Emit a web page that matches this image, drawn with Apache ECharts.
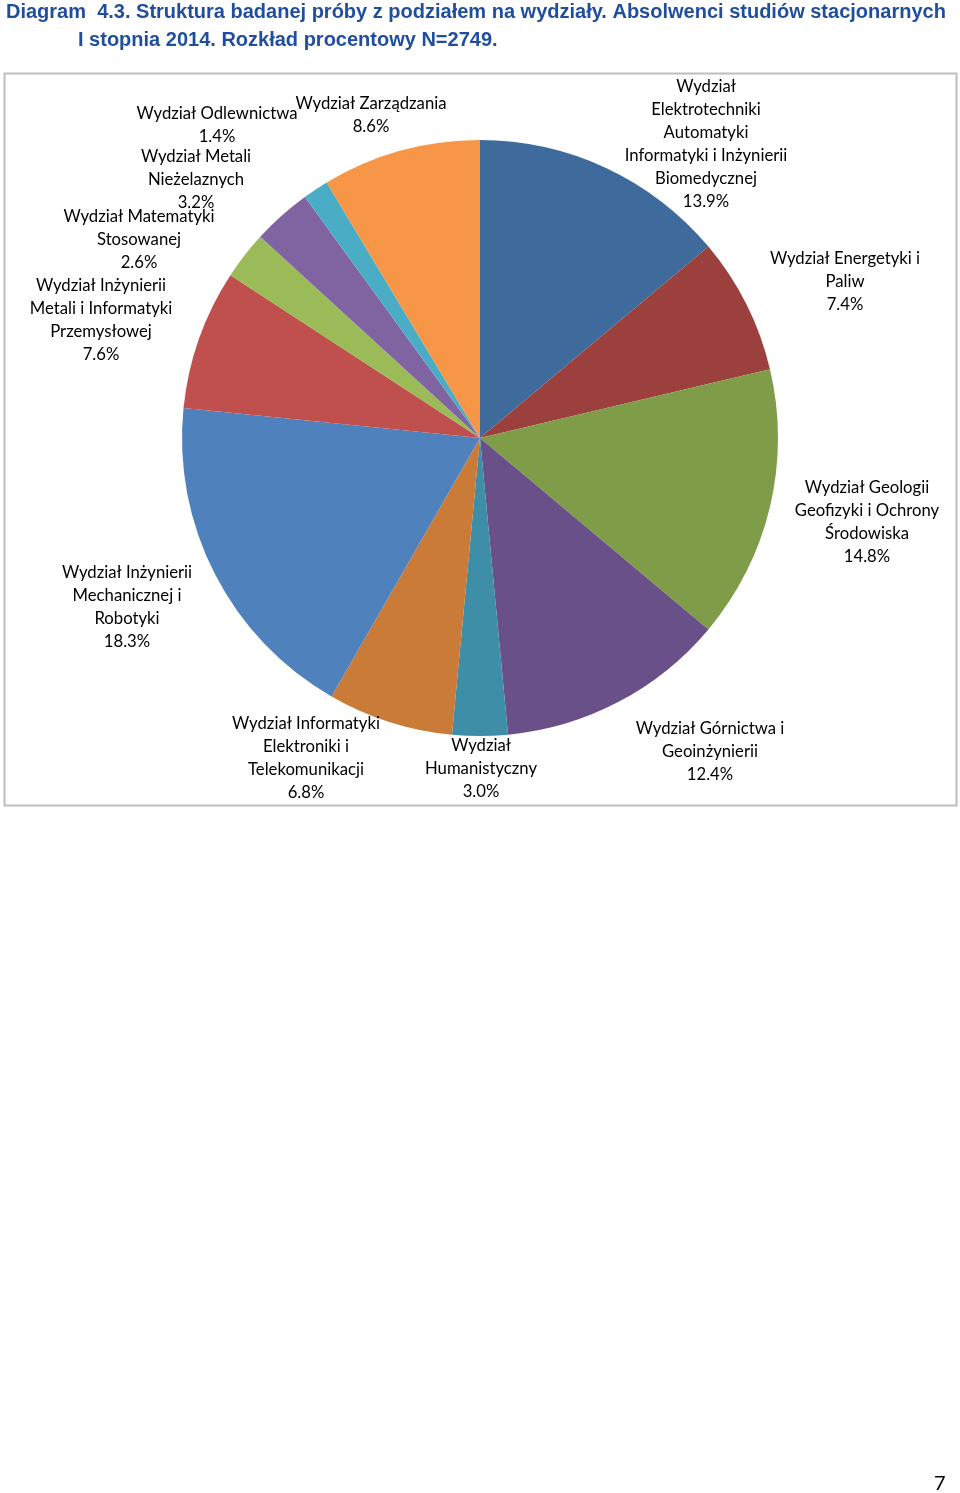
<!DOCTYPE html>
<html>
<head>
<meta charset="utf-8">
<script src="https://cdn.jsdelivr.net/npm/echarts@6/dist/echarts.min.js"></script>
<style>
  html, body { margin: 0; padding: 0; background: #ffffff; }
  #chart { width: 960px; height: 1493px; }
</style>
</head>
<body>
<div id="chart"></div>
<script>
// ---- data ----
const categories = [
  'Wydział\nElektrotechniki\nAutomatyki\nInformatyki i Inżynierii\nBiomedycznej',
  'Wydział Energetyki i\nPaliw',
  'Wydział Geologii\nGeofizyki i Ochrony\nŚrodowiska',
  'Wydział Górnictwa i\nGeoinżynierii',
  'Wydział\nHumanistyczny',
  'Wydział Informatyki\nElektroniki i\nTelekomunikacji',
  'Wydział Inżynierii\nMechanicznej i\nRobotyki',
  'Wydział Inżynierii\nMetali i Informatyki\nPrzemysłowej',
  'Wydział Matematyki\nStosowanej',
  'Wydział Metali\nNieżelaznych',
  'Wydział Odlewnictwa',
  'Wydział Zarządzania'
];
const shares = [13.9, 7.4, 14.8, 12.4, 3.0, 6.8, 18.3, 7.6, 2.6, 3.2, 1.4, 8.6];
const titleLines = [
  'Diagram  4.3. Struktura badanej próby z podziałem na wydziały. Absolwenci studiów stacjonarnych',
  'I stopnia 2014. Rozkład procentowy N=2749.'
];
const pageNumber = '7';

// ---- styling / layout ----
const colors = ['#3E6A9C', '#9C403D', '#7F9C48', '#6A5088', '#3D8EA6', '#CB7B38',
                '#4F81BD', '#C0504D', '#9BBB59', '#8064A2', '#4BACC6', '#F79646'];
// label centres (layout hints, pixels)
const labelPos = [
  [706, 144], [845, 282], [867, 522], [710, 752], [481, 769], [306, 758],
  [127, 607], [101, 320], [139, 240], [196, 180], [217, 125], [371, 115]
];

const chart = echarts.init(document.getElementById('chart'), null, { renderer: 'canvas' });
const labelFont = 'Lato, "Open Sans", sans-serif';
const titleFont = '"Liberation Sans Narrow", "Liberation Sans", Arial, sans-serif';

chart.setOption({
  animation: false,
  backgroundColor: '#ffffff',
  title: [
    { text: titleLines[0], left: 1, top: -3,
      textStyle: { fontFamily: titleFont, fontWeight: 'bold', fontSize: 20, color: '#1F4E9E' } },
    { text: titleLines[1], left: 73, top: 25,
      textStyle: { fontFamily: titleFont, fontWeight: 'bold', fontSize: 20, color: '#1F4E9E' } },
    { text: pageNumber, left: 929, top: 1469,
      textStyle: { fontFamily: labelFont, fontWeight: 'normal', fontSize: 20, color: '#000' } }
  ],
  graphic: [
    { type: 'rect', shape: { x: 4.5, y: 73.5, width: 952, height: 732 },
      style: { fill: 'none', stroke: '#BDBDBD', lineWidth: 2 }, z: -1 }
  ],
  series: [{
    type: 'pie',
    center: [480, 438],
    radius: 298,
    startAngle: 90,
    clockwise: true,
    avoidLabelOverlap: false,
    itemStyle: { borderWidth: 0 },
    emphasis: { disabled: true },
    label: {
      show: true,
      position: 'outside',
      fontFamily: labelFont,
      fontSize: 16.7,
      lineHeight: 23,
      color: '#000',
      align: 'center',
      formatter: p => p.name + '\n' + p.value.toFixed(1) + '%'
    },
    labelLine: { show: false },
    labelLayout: params => {
      const pos = labelPos[params.dataIndex];
      return { x: pos[0], y: pos[1], align: 'center', verticalAlign: 'middle', hideOverlap: false };
    },
    data: categories.map((c, i) => ({ name: c, value: shares[i], itemStyle: { color: colors[i] } }))
  }]
});
</script>
</body>
</html>
